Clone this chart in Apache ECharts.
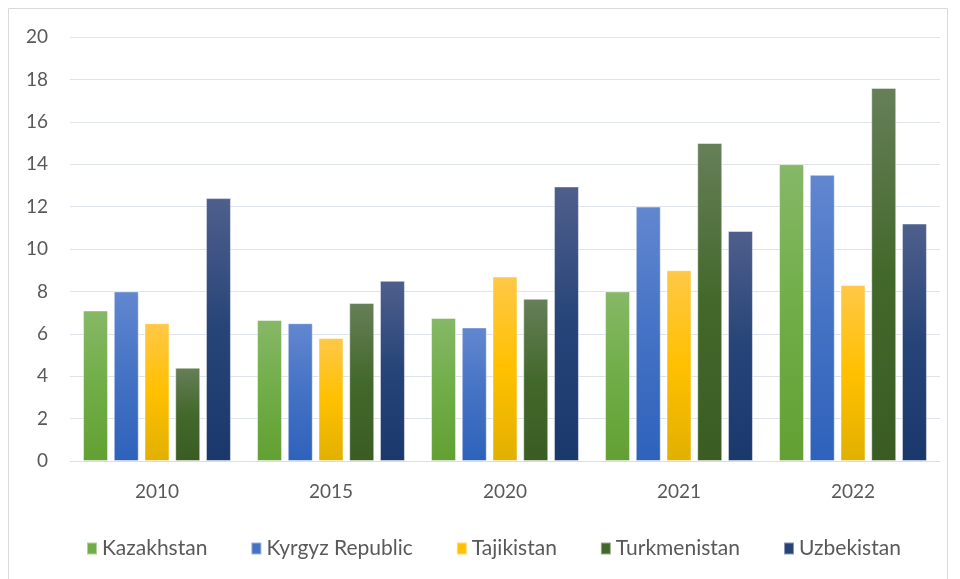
<!DOCTYPE html>
<html>
<head>
<meta charset="utf-8">
<script src="https://cdn.jsdelivr.net/npm/echarts@6/dist/echarts.min.js"></script>
<style>
  html, body { margin: 0; padding: 0; background: #fff; }
  #chart { width: 960px; height: 579px; }
</style>
</head>
<body>
<div id="chart"></div>
<script>
const years = ['2010', '2015', '2020', '2021', '2022'];
const countries = ['Kazakhstan', 'Kyrgyz Republic', 'Tajikistan', 'Turkmenistan', 'Uzbekistan'];

const kazakhstan = [7.1, 6.65, 6.75, 8.0, 14.0];
const kyrgyz = [8.0, 6.5, 6.3, 12.0, 13.5];
const tajikistan = [6.5, 5.8, 8.7, 9.0, 8.3];
const turkmenistan = [4.4, 7.45, 7.65, 15.0, 17.6];
const uzbekistan = [12.4, 8.5, 12.95, 10.85, 11.2];

const yTicks = { min: 0, max: 20, interval: 2 };

// top / middle / bottom shades, like the office gradient fill
const shades = [
  ['#86b867', '#70ad47', '#62a033'],
  ['#6287d0', '#4472c4', '#2e62bb'],
  ['#ffc848', '#ffc000', '#e2b000'],
  ['#667f58', '#43682b', '#3a5c23'],
  ['#4f5f8c', '#264478', '#1b386c'],
];

const values = [kazakhstan, kyrgyz, tajikistan, turkmenistan, uzbekistan];

const grad = (c) => new echarts.graphic.LinearGradient(0, 0, 0, 1, [
  { offset: 0, color: c[0] },
  { offset: 0.5, color: c[1] },
  { offset: 1, color: c[2] },
]);

const chart = echarts.init(document.getElementById('chart'));
const font = 'Lato, "Liberation Sans", sans-serif';

chart.setOption({
  animation: false,
  textStyle: { fontFamily: font },
  graphic: [{
    type: 'rect',
    shape: { x: 8.5, y: 8.5, width: 939, height: 580 },
    style: { fill: 'none', stroke: '#d9d9d9', lineWidth: 1 },
    silent: true,
  }],
  grid: { left: 70, right: 20, top: 37, bottom: 118 },
  legend: {
    top: 533,
    left: 81,
    itemWidth: 10,
    itemHeight: 12,
    itemGap: 43,
    icon: 'rect',
    textStyle: { color: '#595959', fontSize: 21, fontFamily: font },
    data: countries.map((name, i) => ({ name, itemStyle: { color: shades[i][1] } })),
  },
  xAxis: {
    type: 'category',
    data: years,
    axisLine: { lineStyle: { color: '#d9dee6' } },
    axisTick: { show: false },
    axisLabel: { color: '#595959', fontSize: 19, margin: 21 },
  },
  yAxis: {
    type: 'value',
    min: yTicks.min,
    max: yTicks.max,
    interval: yTicks.interval,
    axisLine: { show: false },
    axisTick: { show: false },
    axisLabel: { color: '#595959', fontSize: 19, margin: 22 },
    splitLine: { lineStyle: { color: '#dfe3ea' } },
  },
  series: countries.map((name, i) => ({
    name,
    type: 'bar',
    data: values[i],
    barGap: '23%',
    barCategoryGap: '15%',
    itemStyle: {
      color: grad(shades[i]),
      borderColor: 'rgba(255,255,255,0.45)',
      borderWidth: 1,
    },
  })),
});
</script>
</body>
</html>
